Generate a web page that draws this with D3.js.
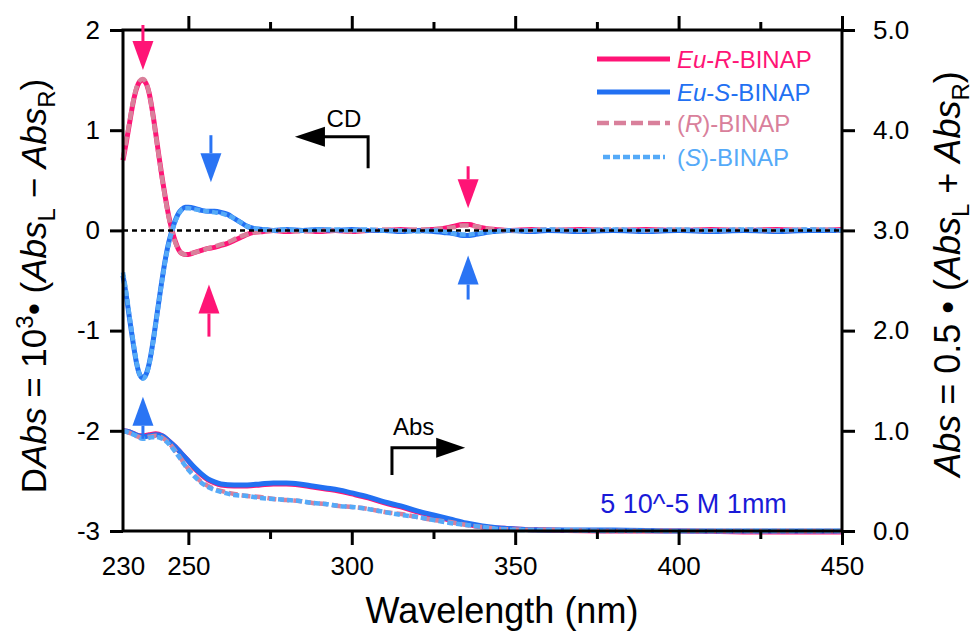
<!DOCTYPE html>
<html>
<head>
<meta charset="utf-8">
<script src="https://cdn.jsdelivr.net/npm/d3@7"></script>
<style>
  html, body { margin: 0; padding: 0; background: #fff; }
  svg text { font-family: "Liberation Sans", Arial, Helvetica, sans-serif; }
</style>
</head>
<body>
<svg id="chart" width="980" height="632"></svg>
<script>
// ---------------- DATA ----------------
// CD spectra (left axis, ΔAbs ×10^3)
const cdWl = [230,231,232,233,234,235,236,237,238,239,240,241,242,243,244,245,246,247,248,249,250,
  252,254,256,258,260,262,264,266,268,270,273,
  276,280,285,290,295,300,305,310,315,320,325,
  328,331,334,336,338,341,344,348,
  355,360,370,380,390,400,410,420,430,440,450];
const cdEuR = [0.70,0.88,1.07,1.26,1.40,1.48,1.50,1.47,1.37,1.19,0.97,0.74,0.52,0.32,0.14,0.00,-0.11,-0.19,-0.23,-0.24,-0.24,
  -0.22,-0.20,-0.18,-0.17,-0.15,-0.13,-0.10,-0.07,-0.04,-0.02,-0.01,
  0.00,-0.01,0.00,-0.01,0.00,-0.01,0.00,0.00,0.01,0.00,0.01,
  0.02,0.04,0.06,0.06,0.04,0.02,0.01,0.00,
  0.01,0.00,0.01,0.00,0.01,0.00,0.01,0.00,0.01,0.00,0.01];
const cdEuS = [-0.45,-0.65,-0.88,-1.10,-1.30,-1.43,-1.47,-1.44,-1.33,-1.15,-0.93,-0.70,-0.48,-0.28,-0.12,0.00,0.10,0.17,0.21,0.23,0.23,
  0.22,0.20,0.19,0.19,0.18,0.16,0.12,0.08,0.04,0.02,0.01,
  0.00,0.01,0.00,0.01,0.00,0.01,0.00,0.00,-0.01,0.00,-0.01,
  -0.02,-0.03,-0.05,-0.05,-0.04,-0.02,-0.01,0.00,
  -0.01,0.00,-0.01,0.00,-0.01,0.00,-0.01,0.00,-0.01,0.00,0.00];
const cdR = [0.72,0.90,1.08,1.27,1.41,1.49,1.51,1.48,1.37,1.18,0.96,0.73,0.51,0.31,0.13,-0.01,-0.12,-0.19,-0.23,-0.24,-0.23,
  -0.22,-0.20,-0.18,-0.16,-0.14,-0.12,-0.09,-0.06,-0.04,-0.02,-0.01,
  0.00,0.00,-0.01,0.00,0.00,-0.01,0.00,0.01,0.00,0.01,0.01,
  0.02,0.03,0.05,0.05,0.04,0.02,0.01,0.00,
  0.00,0.01,0.00,0.01,0.00,0.01,0.00,0.01,0.00,0.01,0.00];
const cdS = [-0.42,-0.62,-0.86,-1.08,-1.29,-1.43,-1.48,-1.45,-1.34,-1.16,-0.94,-0.71,-0.49,-0.29,-0.13,-0.01,0.09,0.16,0.21,0.22,0.22,
  0.21,0.20,0.19,0.18,0.17,0.15,0.12,0.08,0.04,0.02,0.01,
  0.00,0.01,0.00,0.01,0.01,0.00,0.01,0.00,0.00,-0.01,0.00,
  -0.01,-0.03,-0.04,-0.04,-0.03,-0.02,-0.01,0.00,
  0.00,0.01,0.00,0.01,0.00,0.01,0.00,0.01,0.00,0.01,0.00];

// Absorption spectra (right axis)
const absWl = [230,232,234,236,238,240,242,244,246,248,250,252,254,256,258,260,
  264,268,272,276,280,284,288,292,296,300,
  305,310,315,320,325,330,335,340,345,350,
  360,380,400,425,450];
const absEuR = [1.00,0.99,0.96,0.95,0.96,0.97,0.95,0.90,0.84,0.77,0.70,0.62,0.56,0.51,0.48,0.46,
  0.45,0.45,0.46,0.47,0.47,0.46,0.44,0.42,0.40,0.37,
  0.33,0.28,0.24,0.19,0.15,0.11,0.07,0.04,0.03,0.02,
  0.01,0.00,0.00,-0.01,-0.01];
const absEuS = [1.00,0.99,0.96,0.94,0.95,0.96,0.95,0.90,0.84,0.77,0.70,0.63,0.57,0.52,0.49,0.47,
  0.46,0.46,0.47,0.48,0.48,0.47,0.45,0.43,0.41,0.38,
  0.34,0.29,0.25,0.20,0.16,0.12,0.08,0.05,0.03,0.02,
  0.01,0.01,0.00,0.00,0.00];
const absR = [1.00,0.98,0.95,0.93,0.94,0.95,0.93,0.88,0.80,0.71,0.62,0.55,0.49,0.45,0.42,0.40,
  0.37,0.35,0.34,0.32,0.31,0.30,0.28,0.27,0.25,0.24,
  0.22,0.19,0.17,0.14,0.11,0.09,0.06,0.04,0.02,0.015,
  0.01,0.00,0.00,0.00,0.00];
const absS = [1.00,0.98,0.95,0.92,0.93,0.94,0.92,0.87,0.79,0.70,0.61,0.54,0.48,0.44,0.41,0.39,
  0.36,0.35,0.33,0.32,0.31,0.30,0.28,0.27,0.25,0.24,
  0.22,0.19,0.16,0.14,0.11,0.08,0.06,0.04,0.02,0.01,
  0.01,0.00,0.00,0.00,0.00];

// Series names
const seriesNames = ["Eu-R-BINAP","Eu-S-BINAP","(R)-BINAP","(S)-BINAP"];

// Axis ticks
const xLabelTicks = [230,250,300,350,400,450];
const xMajorTicks = [250,300,350,400,450];
const xMinorTicks = [275,325,375,425];
const yLeftTicks = [-3,-2,-1,0,1,2];
const yRightTicks = [0,1,2,3,4,5];

// Marker arrows: wavelength, tip value, tail value (left axis units), series index
const markWl   = [236.1, 256.9, 256.3, 236.1, 335.6, 335.6];
const markTip  = [1.60, 0.48, -0.54, -1.66, 0.22, -0.25];
const markTail = [2.05, 0.95, -1.06, -2.08, 0.64, -0.69];
const markSer  = [0, 1, 0, 1, 0, 1];

// ---------------- SCALES ----------------
const W = 980, H = 632;
const L = 123, R = 842, T = 30, B = 531;
const x = d3.scaleLinear().domain([230, 450]).range([L, R]);
const yL = d3.scaleLinear().domain([-3, 2]).range([B, T]);
const yR = d3.scaleLinear().domain([0, 5]).range([B, T]);

const colors = ["#ff1476", "#2270f2", "#d9809b", "#55aaf8"];
const arrowColors = ["#ff1476", "#2a74f4"];

const svg = d3.select("#chart");
svg.append("rect").attr("width", W).attr("height", H).attr("fill", "#fff");

// ---------------- CURVES ----------------
const cdLine = d3.line().x(d => x(d[0])).y(d => yL(d[1])).curve(d3.curveMonotoneX);
const absLine = d3.line().x(d => x(d[0])).y(d => yR(d[1])).curve(d3.curveMonotoneX);

const cdSeries = [cdEuR, cdEuS, cdR, cdS];
const absSeries = [absEuR, absEuS, absR, absS];
const styles = [
  {w: 5, dash: null},
  {w: 5, dash: null},
  {w: 4.5, dash: "9,4"},
  {w: 4.5, dash: "6,3"}
];

const gCurves = svg.append("g");
[0,1,2,3].forEach(i => {
  const cd = cdWl.map((w, k) => [w, cdSeries[i][k]]);
  const ab = absWl.map((w, k) => [w, absSeries[i][k]]);
  [[cd, cdLine], [ab, absLine]].forEach(([data, gen]) => {
    gCurves.append("path")
      .attr("d", gen(data))
      .attr("fill", "none")
      .attr("stroke", colors[i])
      .attr("stroke-width", styles[i].w)
      .attr("stroke-linejoin", "round")
      .attr("stroke-dasharray", styles[i].dash);
  });
});

// zero line
svg.append("line")
  .attr("x1", x(230)).attr("x2", x(450))
  .attr("y1", yL(0)).attr("y2", yL(0))
  .attr("stroke", "#000").attr("stroke-width", 2.5)
  .attr("stroke-dasharray", "5,4");

// ---------------- AXES ----------------
function styleAxis(g) {
  g.select(".domain").remove();
  g.selectAll(".tick line").attr("stroke", "#000").attr("stroke-width", 3);
  g.selectAll(".tick text").attr("fill", "#000").attr("font-size", 26)
    .attr("font-family", '"Liberation Sans", Arial, sans-serif');
}
// bottom
svg.append("g").attr("transform", `translate(0,${B})`)
  .call(d3.axisBottom(x).tickValues(xMajorTicks).tickSize(14).tickFormat(""))
  .call(styleAxis);
svg.append("g").attr("transform", `translate(0,${B})`)
  .call(d3.axisBottom(x).tickValues(xMinorTicks).tickSize(8).tickFormat(""))
  .call(styleAxis);
svg.append("g").attr("transform", `translate(0,${B})`)
  .call(d3.axisBottom(x).tickValues(xLabelTicks).tickSize(0).tickPadding(26).tickFormat(d => String(d)))
  .call(styleAxis);
// top
svg.append("g").attr("transform", `translate(0,${T})`)
  .call(d3.axisTop(x).tickValues(xMajorTicks).tickSize(14).tickFormat(""))
  .call(styleAxis);
svg.append("g").attr("transform", `translate(0,${T})`)
  .call(d3.axisTop(x).tickValues(xMinorTicks).tickSize(8).tickFormat(""))
  .call(styleAxis);
// left
svg.append("g").attr("transform", `translate(${L},0)`)
  .call(d3.axisLeft(yL).tickValues(yLeftTicks).tickSize(13).tickPadding(10).tickFormat(d => String(d)))
  .call(styleAxis);
// right
svg.append("g").attr("transform", `translate(${R},0)`)
  .call(d3.axisRight(yR).tickValues(yRightTicks).tickSize(13).tickPadding(18).tickFormat(d3.format(".1f")))
  .call(styleAxis);

// frame
svg.append("rect")
  .attr("x", L).attr("y", T).attr("width", R - L).attr("height", B - T)
  .attr("fill", "none").attr("stroke", "#000").attr("stroke-width", 3);

// ---------------- TITLES ----------------
const tf = 36, sf = 24;
svg.append("text")
  .attr("x", 502).attr("y", 623)
  .attr("text-anchor", "middle").attr("font-size", tf)
  .text("Wavelength (nm)");

// left title
const lt = svg.append("text")
  .attr("transform", "translate(46,286) rotate(-90)")
  .attr("text-anchor", "middle").attr("font-size", 35);
lt.append("tspan").text("D");
lt.append("tspan").attr("font-style", "italic").text("Abs");
lt.append("tspan").text(" = 10");
lt.append("tspan").attr("font-size", sf).attr("dy", -13).text("3");
lt.append("tspan").attr("dy", 13).text("• (");
lt.append("tspan").attr("font-style", "italic").text("Abs");
lt.append("tspan").attr("font-size", sf).attr("dy", 9).text("L");
lt.append("tspan").attr("dy", -9).text(" − ");
lt.append("tspan").attr("font-style", "italic").text("Abs");
lt.append("tspan").attr("font-size", sf).attr("dy", 9).text("R");
lt.append("tspan").attr("dy", -9).text(")");

// right title
const rt = svg.append("text")
  .attr("transform", "translate(960,274) rotate(-90)")
  .attr("text-anchor", "middle").attr("font-size", tf);
rt.append("tspan").attr("font-style", "italic").text("Abs");
rt.append("tspan").text(" = 0.5 • (");
rt.append("tspan").attr("font-style", "italic").text("Abs");
rt.append("tspan").attr("font-size", sf).attr("dy", 9).text("L");
rt.append("tspan").attr("dy", -9).text(" + ");
rt.append("tspan").attr("font-style", "italic").text("Abs");
rt.append("tspan").attr("font-size", sf).attr("dy", 9).text("R");
rt.append("tspan").attr("dy", -9).text(")");

// ---------------- LEGEND ----------------
const legY = [59, 92, 123, 157];
const legX1 = [597, 597, 597, 603], legX2 = [670, 670, 670, 665];
const legParts = [
  [["Eu", true], ["-", false], ["R", true], ["-BINAP", false]],
  [["Eu", true], ["-", false], ["S", true], ["-BINAP", false]],
  [["(", false], ["R", true], [")-BINAP", false]],
  [["(", false], ["S", true], [")-BINAP", false]]
];
const legDash = [null, null, "12,5", "7,3"];
const gLeg = svg.append("g");
seriesNames.forEach((name, i) => {
  gLeg.append("line")
    .attr("x1", legX1[i]).attr("x2", legX2[i]).attr("y1", legY[i]).attr("y2", legY[i])
    .attr("stroke", colors[i]).attr("stroke-width", i < 2 ? 5 : 4.5)
    .attr("stroke-dasharray", legDash[i]);
  const t = gLeg.append("text").attr("x", 677).attr("y", legY[i] + 9)
    .attr("font-size", 24).attr("fill", colors[i]);
  legParts[i].forEach(([s, it]) => {
    t.append("tspan").attr("font-style", it ? "italic" : "normal").text(s);
  });
});

// ---------------- ANNOTATIONS ----------------
// CD arrow (pointing left, to left axis)
const cdCorner = [305, 0.935], cdTail = 0.62, cdTip = 282.6;
svg.append("path")
  .attr("d", `M${x(cdCorner[0])},${yL(cdTail)} V${yL(cdCorner[1])} H${x(cdTip) + 26}`)
  .attr("fill", "none").attr("stroke", "#000").attr("stroke-width", 3);
svg.append("path")
  .attr("d", `M${x(cdTip)},${yL(cdCorner[1])} l30,-10 v20 z`)
  .attr("fill", "#000");
svg.append("text").attr("x", x(292.3)).attr("y", yL(1.035))
  .attr("font-size", 24).text("CD");

// Abs arrow (pointing right, to right axis)
const abCorner = [312.3, 0.83], abTail = 0.56, abTip = 334.7;
svg.append("path")
  .attr("d", `M${x(abCorner[0])},${yR(abTail)} V${yR(abCorner[1])} H${x(abTip) - 26}`)
  .attr("fill", "none").attr("stroke", "#000").attr("stroke-width", 3);
svg.append("path")
  .attr("d", `M${x(abTip)},${yR(abCorner[1])} l-29,-10 v20 z`)
  .attr("fill", "#000");
svg.append("text").attr("x", x(312.6)).attr("y", yR(0.96))
  .attr("font-size", 24).text("Abs");

svg.append("text").attr("x", x(376)).attr("y", yR(0.18))
  .attr("font-size", 27).attr("fill", "#1a1ad8").text("5 10^-5 M 1mm");

// colored marker arrows
const gMk = svg.append("g");
markWl.forEach((w, i) => {
  const c = arrowColors[markSer[i]];
  const px = x(w), tipY = yL(markTip[i]), tailY = yL(markTail[i]);
  const dir = tailY < tipY ? 1 : -1; // 1: pointing down
  const headLen = 29, half = 10.5;
  const baseY = tipY - dir * headLen;
  gMk.append("line").attr("x1", px).attr("x2", px).attr("y1", tailY).attr("y2", baseY)
    .attr("stroke", c).attr("stroke-width", 3);
  gMk.append("path")
    .attr("d", `M${px},${tipY} L${px - half},${baseY} L${px + half},${baseY} Z`)
    .attr("fill", c);
});
</script>
</body>
</html>
